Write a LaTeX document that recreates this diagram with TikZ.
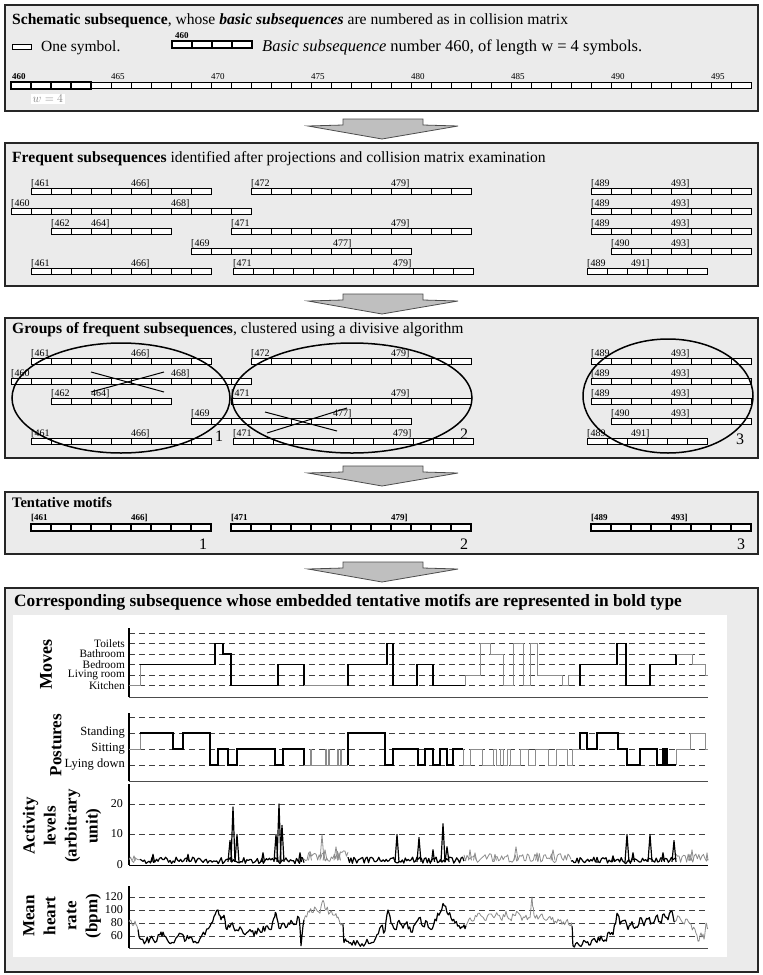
\documentclass[tikz,border=0pt]{standalone}
\usepackage{fontspec}
\setmainfont{Liberation Serif}
\newcommand{\fsz}[1]{\fontsize{#1}{#1}\selectfont}
\newcommand{\cbar}[4][cellsty]{%
  \draw[#1] (#2,#4) rectangle ++(#3*20,6);
  \foreach \k in {1,...,#3}{\draw[#1,fill=none] (#2+\k*20,#4) -- ++(0,6);}%
}
\newcommand{\bbar}[3]{%
  \draw[boldcell] (#1,#3) rectangle ++(#2*20,7);
  \foreach \k in {1,...,#2}{\draw[boldcell,fill=none] (#1+\k*20,#3) -- ++(0,7);}%
}
\newcommand{\lb}[3]{\node[lab] (l-#1-#2) at (#1,#2) {#3};}
\newcommand{\blb}[3]{\node[blab] (b-#1-#2) at (#1,#2) {#3};}
\newcommand{\bigarr}[1]{%
  \draw[bigarrow] (343,#1) -- (423,#1) -- (423,#1+6) -- (458,#1+7) -- (382,#1+20) -- (308,#1+7) -- (343,#1+6) -- cycle;}
\newcommand{\hrs}[4]{%
  \draw[#1] (#2,{hy(#3)}) \foreach \x/\v [remember=\x as \lx (initially #2), remember=\v as \lv (initially #3)] in {#4} { -- ({\lx+(\x-\lx)/3},{hy(\lv+(\v-\lv)/3+12*(rnd-0.5))}) -- ({\lx+2*(\x-\lx)/3},{hy(\lv+2*(\v-\lv)/3+12*(rnd-0.5))}) -- (\x,{hy(\v)}) };}
\def\MvK{685.5}\def\MvL{675}\def\MvB{664.5}\def\MvA{654}\def\MvT{643.5}
\def\PoY{765}\def\PoS{749}\def\PoT{733}
\begin{document}
\begin{tikzpicture}[x=1pt,y=-1pt,
  declare function={hy(\v)=936-(\v-60)*0.65; ay(\v)=865-3.05*\v;},
  panel/.style={draw=black!85, line width=1.2pt, fill=black!8},
  cellsty/.style={draw=black, line width=0.7pt, fill=white},
  boldcell/.style={draw=black, line width=1.8pt, fill=white},
  lab/.style={font=\fsz{10}, inner sep=0pt, anchor=base west},
  blab/.style={font=\fsz{9}\bfseries, inner sep=0pt, anchor=base west},
  ttl/.style={font=\fsz{15.6}, inner sep=0pt, anchor=base west},
  bigarrow/.style={draw=black!70, line width=0.8pt, fill=black!25},
  gl/.style={black!75, dash pattern=on 6pt off 4pt, line width=0.7pt},
  thk/.style={black, line width=1.8pt},
  thn/.style={black!45, line width=0.7pt},
  athk/.style={black, line width=1.2pt, line join=round},
  athn/.style={black!45, line width=0.8pt, line join=round},
  ell/.style={black, line width=1.5pt},
  num/.style={font=\fsz{16}, inner sep=0pt, anchor=base},
  ylab/.style={rotate=90, font=\fsz{17}\bfseries, align=center, inner sep=0pt},
  tick/.style={font=\fsz{12}, inner sep=0pt, anchor=east},
  lev/.style={font=\fsz{11.3}, inner sep=0pt, anchor=east},
]
\pgfmathsetseed{4217}
\useasboundingbox (0,0) rectangle (763,975);
\fill[white] (0,0) rectangle (763,975);

% ---------- panels
\draw[panel] (5,5) rectangle (758,111);
\draw[panel] (5,143) rectangle (758,286);
\draw[panel] (5,318) rectangle (758,458);
\draw[panel] (5,492) rectangle (758,554);
\draw[panel] (5,588) rectangle (758,972);
\bigarr{119}
\bigarr{294}
\bigarr{466}
\bigarr{562}

% ---------- panel 1
\node[ttl] (t1) at (12,24) {\textbf{Schematic subsequence}, whose \textbf{\textit{basic subsequences}} are numbered as in collision matrix};
\draw[cellsty] (12,44) rectangle (31,49);
\node[font=\fsz{15.5}, inner sep=0pt, anchor=base west] (onesym) at (41,51) {One symbol.};
\bbar{172}{4}{41}
\blb{175}{38}{460}
\node[font=\fsz{16.5}, inner sep=0pt, anchor=base west] (basic) at (262,51) {\textit{Basic subsequence} number 460, of length w = 4 symbols.};
\cbar{11}{37}{82}
\bbar{11}{4}{82}
\blb{12}{79}{460}
\foreach \n [count=\i] in {465,470,475,480,485,490,495}{
  \node[font=\fsz{9}, inner sep=0pt, anchor=base west] (r\n) at (11+\i*100,79) {\n};}
\node[fill=white, text=black!50, inner sep=1.5pt, font=\fsz{13}, anchor=west] (wlab) at (31,99) {$w = 4$};

% ---------- panel 2 and 3 rows
\node[ttl] (t2) at (12,162) {\textbf{Frequent subsequences} identified after projections and collision matrix examination};
\node[ttl] (t3) at (12,333) {\textbf{Groups of frequent subsequences}, clustered using a divisive algorithm};
\foreach \dy in {0,170}{
\begin{scope}[yshift=-\dy pt]
  \cbar{31}{9}{188}\lb{31}{186}{[461}\lb{131}{186}{466]}
  \cbar{251}{11}{188}\lb{251}{186}{[472}\lb{391}{186}{479]}
  \cbar{591}{8}{188}\lb{591}{186}{[489}\lb{671}{186}{493]}
  \cbar{11}{12}{208}\lb{11}{206}{[460}\lb{171}{206}{468]}
  \cbar{591}{8}{208}\lb{591}{206}{[489}\lb{671}{206}{493]}
  \cbar{51}{6}{228}\lb{51}{226}{[462}\lb{91}{226}{464]}
  \cbar{231}{12}{228}\lb{231}{226}{[471}\lb{391}{226}{479]}
  \cbar{591}{8}{228}\lb{591}{226}{[489}\lb{671}{226}{493]}
  \cbar{191}{11}{248}\lb{191}{246}{[469}\lb{333}{246}{477]}
  \cbar{611}{7}{248}\lb{611}{246}{[490}\lb{671}{246}{493]}
  \cbar{31}{9}{268}\lb{31}{266}{[461}\lb{131}{266}{466]}
  \cbar{233}{12}{268}\lb{233}{266}{[471}\lb{393}{266}{479]}
  \cbar{587}{6}{268}\lb{587}{266}{[489}\lb{631}{266}{491]}
\end{scope}}
% clusters
\draw[ell] (121,398) ellipse [x radius=109, y radius=55];
\draw[ell] (352,398) ellipse [x radius=120, y radius=55];
\draw[ell] (668,396) ellipse [x radius=85, y radius=57];
\draw[line width=1pt] (91,372) -- (164,392);
\draw[line width=1pt] (91,392) -- (164,372);
\draw[line width=1pt] (265,412) -- (337,431);
\draw[line width=1pt] (267,433) -- (347,408);
\node[num] (c1) at (219,441) {1};
\node[num] (c2) at (464,439) {2};
\node[num] (c3) at (740,444) {3};

% ---------- panel 4
\node[font=\fsz{14.5}\bfseries, inner sep=0pt, anchor=base west] (t4) at (12,507) {Tentative motifs};
\bbar{31}{9}{524}\blb{31}{520}{[461}\blb{131}{520}{466]}
\bbar{231}{12}{524}\blb{231}{520}{[471}\blb{391}{520}{479]}
\bbar{591}{8}{524}\blb{591}{520}{[489}\blb{671}{520}{493]}
\node[num] (m1) at (203,549) {1};
\node[num] (m2) at (464,549) {2};
\node[num] (m3) at (741,549) {3};

% ---------- panel 5
\node[font=\fsz{17.3}\bfseries, inner sep=0pt, anchor=base west] (t5) at (14,606) {Corresponding subsequence whose embedded tentative motifs are represented in bold type};
\fill[white] (13,615) rectangle (727,957);

% Moves
\foreach \yy in {633,643.5,654,664.5,675,685.5}{\draw[gl] (129,\yy) -- (708,\yy);}
\draw[black!70, line width=0.9pt] (129,697) -- (708,697);
\draw[line width=1.5pt] (129,628) -- (129,697);
\node[lev] (mvT) at (125,\MvT) {Toilets};
\node[lev] (mvA) at (125,\MvA) {Bathroom};
\node[lev] (mvB) at (125,\MvB) {Bedroom};
\node[lev] (mvL) at (125,\MvL) {Living room};
\node[lev] (mvK) at (125,\MvK) {Kitchen};
\node[ylab, font=\fsz{18}\bfseries] (ymv) at (46,664) {Moves};
\draw[thn] (129,\MvK) -- (140,\MvK) -- (140,\MvB);
\draw[thk] (140,\MvB) -- (215,\MvB) -- (215,\MvT) -- (223,\MvT) -- (223,\MvA) -- (231,\MvA) -- (231,\MvK) -- (278,\MvK) -- (278,\MvB) -- (304,\MvB) -- (304,\MvK);
\draw[thn] (304,\MvK) -- (348,\MvK);
\draw[thk] (348,\MvK) -- (348,\MvB) -- (387,\MvB) -- (387,\MvT) -- (393,\MvT) -- (393,\MvK) -- (417,\MvK) -- (417,\MvB) -- (433,\MvB) -- (433,\MvK) -- (465,\MvK);
\draw[thn] (465,\MvK) -- (465,\MvL) -- (480,\MvL) -- (480,\MvT) -- (490,\MvT) -- (490,\MvA) -- (503,\MvA) -- (503,\MvK) -- (513,\MvK) -- (513,\MvT) -- (523,\MvT) -- (523,\MvK) -- (530,\MvK) -- (530,\MvT) -- (537,\MvT) -- (537,\MvL) -- (562,\MvL) -- (562,\MvK) -- (568,\MvK) -- (568,\MvL) -- (580,\MvL) -- (580,\MvK);
\draw[thk] (580,\MvK) -- (580,\MvB) -- (617,\MvB) -- (617,\MvT) -- (626,\MvT) -- (626,\MvK) -- (650,\MvK) -- (650,\MvB) -- (676,\MvB) -- (676,\MvA);
\draw[thn] (676,\MvA) -- (692,\MvA) -- (692,\MvB) -- (705,\MvB) -- (705,\MvL) -- (708,\MvL);

% Postures
\foreach \yy in {717,733,749,765}{\draw[gl] (129,\yy) -- (708,\yy);}
\draw[black!70, line width=0.9pt] (129,781) -- (708,781);
\draw[line width=1.5pt] (129,713) -- (129,781);
\node[lev, font=\fsz{12.5}] (poT) at (125,\PoT) {Standing};
\node[lev, font=\fsz{12.5}] (poS) at (125,\PoS) {Sitting};
\node[lev, font=\fsz{12.5}] (poY) at (125,\PoY) {Lying down};
\node[ylab] (ypo) at (56,745) {Postures};
\draw[thn] (129,\PoS) -- (140,\PoS) -- (140,\PoT);
\draw[thk] (140,\PoT) -- (173,\PoT) -- (173,\PoS) -- (183,\PoS) -- (183,\PoT) -- (210,\PoT) -- (210,\PoY) -- (218,\PoY) -- (218,\PoS) -- (228,\PoS) -- (228,\PoY) -- (237,\PoY) -- (237,\PoS) -- (275,\PoS) -- (275,\PoY) -- (283,\PoY) -- (283,\PoS) -- (304,\PoS) -- (304,\PoY);
\draw[thn] (304,\PoY) -- (310,\PoY) -- (310,\PoS) -- (311,\PoS) -- (311,\PoY) -- (325,\PoY) -- (325,\PoS) -- (326,\PoS) -- (326,\PoY) -- (328,\PoY) -- (328,\PoS) -- (329,\PoS) -- (329,\PoY) -- (337,\PoY) -- (337,\PoS) -- (338,\PoS) -- (338,\PoY) -- (340,\PoY) -- (340,\PoS) -- (341,\PoS) -- (341,\PoY) -- (348,\PoY);
\draw[thk] (348,\PoY) -- (348,\PoT) -- (385,\PoT) -- (385,\PoY) -- (393,\PoY) -- (393,\PoS) -- (418,\PoS) -- (418,\PoY) -- (425,\PoY) -- (425,\PoS) -- (433,\PoS) -- (433,\PoY) -- (440,\PoY) -- (440,\PoS) -- (447,\PoS) -- (447,\PoY) -- (453,\PoY) -- (453,\PoS) -- (463,\PoS);
\draw[thn] (463,\PoS) -- (463,\PoY) -- (470,\PoY) -- (470,\PoS) -- (482,\PoS) -- (482,\PoY) -- (493,\PoY) -- (493,\PoS) -- (496,\PoS) -- (496,\PoY) -- (500,\PoY) -- (500,\PoS) -- (503,\PoS) -- (503,\PoY) -- (507,\PoY) -- (507,\PoS) -- (510,\PoS) -- (510,\PoY) -- (520,\PoY) -- (520,\PoS) -- (528,\PoS) -- (528,\PoY) -- (535,\PoY) -- (535,\PoS) -- (548,\PoS) -- (548,\PoY) -- (556,\PoY) -- (556,\PoS) -- (567,\PoS) -- (567,\PoY) -- (572,\PoY) -- (572,\PoS) -- (580,\PoS);
\draw[thk] (580,\PoS) -- (580,\PoT) -- (587,\PoT) -- (587,\PoS) -- (597,\PoS) -- (597,\PoT) -- (618,\PoT) -- (618,\PoS) -- (627,\PoS) -- (627,\PoY) -- (640,\PoY) -- (640,\PoS) -- (657,\PoS) -- (657,\PoY) -- (663,\PoY) -- (663,\PoS) -- (664,\PoS) -- (664,\PoY) -- (666,\PoY) -- (666,\PoS) -- (667,\PoS) -- (667,\PoY) -- (676,\PoY);
\draw[thn] (676,\PoY) -- (676,\PoS) -- (690,\PoS) -- (690,\PoT) -- (705,\PoT) -- (705,\PoS) -- (708,\PoS);

% Activity
\foreach \yy in {804,834}{\draw[gl] (129,\yy) -- (708,\yy);}
\draw[line width=1.5pt] (129,784) -- (129,865);
\node[tick] (a20) at (123,804) {20};
\node[tick] (a10) at (123,834) {10};
\node[tick] (a0) at (123,865) {0};
\node[ylab, font=\fontsize{17}{21}\selectfont\bfseries] (yac) at (62,826) {Activity\\levels\\(arbitrary\\unit)};
\draw[athn] plot[domain=129:140, samples=8] (\x,{ay(0.6+2*rnd)});
\draw[athk] plot[domain=140:304, samples=110] (\x,{ay(0.4+2.2*rnd)});
\draw[athn] plot[domain=304:348, samples=30] (\x,{ay(1.2+3.5*rnd)});
\draw[athk] plot[domain=348:464, samples=80] (\x,{ay(0.4+2.2*rnd)});
\draw[athn] plot[domain=464:571, samples=72] (\x,{ay(0.8+3*rnd)});
\draw[athk] plot[domain=571:676, samples=70] (\x,{ay(0.4+2.2*rnd)});
\draw[athn] plot[domain=676:708, samples=22] (\x,{ay(0.8+3*rnd)});
\foreach \c/\a/\w in {153/3.5/1.5, 188/3.5/1.5, 230/8/2, 233/19/2, 237/10/2, 263/4/1.5, 276/10/2, 279/20/2, 282/13/2, 300/4/1.5, 397/10/2, 419/9/2, 433/5/1.5, 443/13.5/2, 447/6/2, 597/2.5/1.5, 613/3/1.5, 627/10/2, 633/4/1.5, 650/10/2, 663/4/1.5, 674/8/2}
  {\draw[athk] (\c-\w,{ay(1)}) -- (\c,{ay(\a)}) -- (\c+\w,{ay(1)});}
\foreach \c/\a/\w in {134/3/1.5, 310/4/1.5, 322/10/2, 325/5/2, 336/6/2, 339/4/1.5, 470/5/1.5, 475/4/1.5, 495/3.5/1.5, 516/6/2, 537/4/1.5, 553/5/2, 690/3.5/1.5, 692/5/1.5, 707/4/1}
  {\draw[athn] (\c-\w,{ay(1.5)}) -- (\c,{ay(\a)}) -- (\c+\w,{ay(1.5)});}
\draw[line width=1pt] (129,865) -- (708,865);

% Heart rate
\foreach \yy in {897,910,923,936}{\draw[gl] (129,\yy) -- (708,\yy);}
\draw[line width=1.5pt] (129,886) -- (129,948);
\node[tick] (h120) at (123,897) {120};
\node[tick] (h100) at (123,910) {100};
\node[tick] (h80) at (123,923) {80};
\node[tick] (h60) at (123,936) {60};
\node[ylab, font=\fontsize{17}{21}\selectfont\bfseries] (yhr) at (62,916) {Mean\\heart\\rate\\(bpm)};
\hrs{athn}{129}{82}{132/78, 135/83, 138/70}
\hrs{athk}{138}{70}{141/55, 146/52, 150/56, 155/50, 160/62, 163/66, 167/55, 172/50, 178/60, 182/63, 186/54, 190/58, 195/52, 200/56, 205/62, 210/75, 214/90, 218/100, 221/85, 224/92, 227/70, 231/78, 235/68, 240/74, 245/62, 250/70, 254/60, 258/72, 262/66, 266/75, 270/70, 274/88, 276/95, 279/72, 283/80, 287/74, 291/84, 295/78, 299/88, 301/45, 304/85}
\hrs{athn}{304}{85}{308/98, 312/96, 316/102, 320/95, 323/115, 326/100, 330/96, 334/92, 337/88, 340/80, 343/78}
\hrs{athk}{343}{78}{344/50, 348/52, 352/46, 357/53, 362/48, 367/55, 372/50, 377/62, 381/75, 385/68, 388/100, 391/80, 395/70, 399/84, 403/72, 407/82, 411/66, 415/78, 419/88, 423/75, 427/82, 431/70, 435/86, 439/92, 443/110, 447/96, 451/88, 455/80, 459/76, 463/74, 466/76}
\hrs{athn}{466}{76}{470/88, 474/84, 478/95, 482/90, 486/84, 490/94, 494/88, 498/92, 502/84, 506/98, 510/86, 514/92, 518/96, 522/84, 526/92, 530/88, 532/120, 534/92, 538/86, 542/94, 546/84, 550/90, 554/80, 558/86, 562/78, 566/82, 570/76, 572/75}
\hrs{athk}{572}{75}{573/45, 577/50, 581/44, 585/52, 589/46, 593/55, 597/50, 601/60, 605/54, 609/66, 613/62, 617/95, 620/78, 624/84, 628/70, 632/82, 636/74, 640/88, 644/76, 648/86, 652/80, 656/90, 660/82, 664/94, 668/85, 672/98, 675/82}
\hrs{athn}{675}{82}{679/90, 683/80, 687/86, 691/78, 695/70, 698/52, 701/65, 704/55, 706/80, 708/72}
\draw[black!70, line width=1pt] (129,948) -- (708,948);
\end{tikzpicture}
\end{document}
